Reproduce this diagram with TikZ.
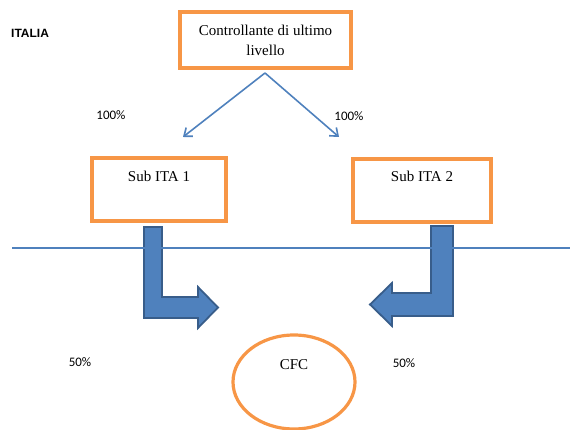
\documentclass[tikz,border=0pt]{standalone}
\usepackage{fontspec}
\setmainfont{Liberation Serif}
\newfontfamily\calib{Carlito}
\newfontfamily\arialb{Liberation Sans}
\usetikzlibrary{arrows.meta,shapes.geometric}
\definecolor{orng}{HTML}{F79646}
\definecolor{bluel}{HTML}{4F81BD}
\definecolor{bluee}{HTML}{385D8A}
\tikzset{
  obox/.style={draw=orng, line width=3.2pt, fill=white, inner sep=0pt},
  serif/.style={font=\fontsize{15}{20}\selectfont, align=center},
  pct/.style={font=\calib\fontsize{13}{15}\selectfont, inner sep=0pt},
  conn/.style={draw=bluel, line width=1.6pt, -{Straight Barb[length=7pt,width=11pt]}},
  bent/.style={fill=bluel, draw=bluee, line width=1.8pt, line join=miter},
  sep/.style={draw=bluel, line width=1.4pt}
}
\begin{document}
\begin{tikzpicture}[x=1pt,y=-1pt]
\useasboundingbox (0,0) rectangle (570,430);
% labels
\node[font=\arialb\bfseries\fontsize{12}{14}\selectfont, inner sep=0pt, anchor=west] (italia) at (11,33) {ITALIA};
% top box
\node[obox, minimum width=171pt, minimum height=56pt, serif] (top) at (265.5,40) {Controllante di ultimo\\livello};
\coordinate (apex) at (265,73);
\coordinate (endL) at (183,137);
\coordinate (endR) at (339,137);
\draw[conn] (apex) -- (endL);
\draw[conn] (apex) -- (endR);
\node[pct] (p1) at (111,115) {100\%};
\node[pct] (p2) at (349,116) {100\%};
% sub boxes
\node[obox, minimum width=134pt, minimum height=63pt] (sub1) at (159,189.5) {};
\node[serif, inner sep=0pt] (sub1t) at (159,176) {Sub ITA 1};
\node[obox, minimum width=138pt, minimum height=63pt] (sub2) at (422,190.5) {};
\node[serif, inner sep=0pt] (sub2t) at (422,176) {Sub ITA 2};
% bent arrows
\draw[bent] (144,227) -- (162,227) -- (162,297) -- (198,297) -- (198,287) -- (218,307.5) -- (198,328) -- (198,318) -- (144,318) -- cycle;
\draw[bent] (453,226) -- (431,226) -- (431,293) -- (392,293) -- (392,283) -- (370,304.5) -- (392,326) -- (392,316) -- (453,316) -- cycle;
% separator line
\coordinate (lineL) at (12,248);
\coordinate (lineR) at (570,248);
\draw[sep] (lineL) -- (lineR);
% bottom
\node[pct] (p3) at (80,362) {50\%};
\node[pct] (p4) at (404,363) {50\%};
\node[draw=orng, line width=3.2pt, ellipse, minimum width=122pt, minimum height=94pt, inner sep=0pt] (cfc) at (294,382) {};
\node[serif, inner sep=0pt] (cfct) at (294,365) {CFC};
\end{tikzpicture}
\end{document}
